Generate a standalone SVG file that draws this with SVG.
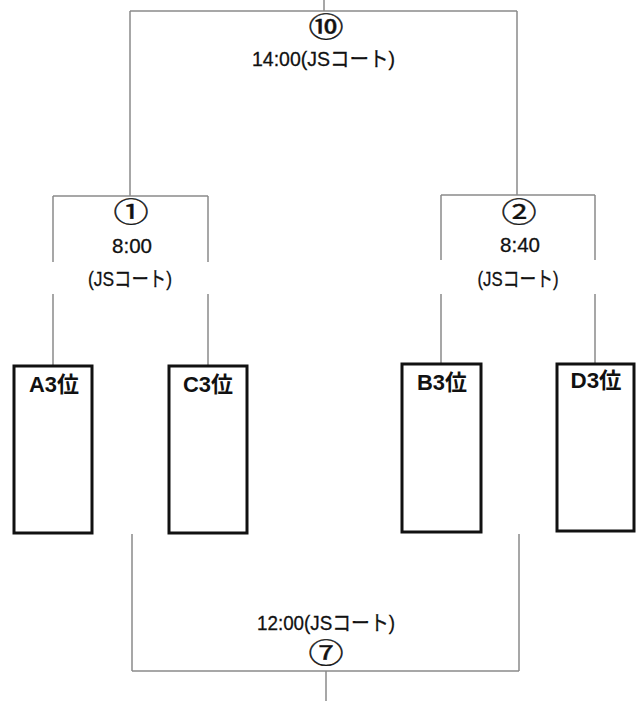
<svg xmlns="http://www.w3.org/2000/svg" width="641" height="701" viewBox="0 0 641 701">
<style>
.ln{stroke:#8a8a8a;stroke-width:1.5;fill:none}
.box{fill:#fff;stroke:#111;stroke-width:3}
.t{font-family:"Liberation Sans","Noto Sans CJK JP",sans-serif;fill:#111;text-anchor:middle;stroke:#111;stroke-width:0.3}
.tm{font-size:21px}
.tb{font-size:22px;font-weight:bold;stroke-width:0}
.c{font-family:"Noto Sans CJK JP",sans-serif;font-size:27px;fill:#111;stroke:#111;stroke-width:0.4;text-anchor:middle}
</style>
<rect width="641" height="701" fill="#fff"/>
<g id="connectors">
<path class="ln" d="M324 0V11M130 11H517M130 11V196M517 11V195"/>
<path class="ln" d="M53 196H208M53 196V262M53 294V366M208 196V262M208 294V366"/>
<path class="ln" d="M441 195H595M441 195V260M441 294V364M595 195V260M595 294V364"/>
<path class="ln" d="M132 534V671M519 534V671M132 671H519M326 671V701"/>
</g>
<g id="match10">
<text class="c" transform="translate(326 37) scale(1.3 1)" x="0" y="0">⑩</text>
<text class="t tm" x="323.5" y="66" textLength="143" lengthAdjust="spacingAndGlyphs">14:00(JSコート)</text>
</g>
<g id="match1">
<text class="c" transform="translate(131 222) scale(1.3 1)" x="0" y="0">①</text>
<text class="t tm" x="132" y="253" textLength="40" lengthAdjust="spacingAndGlyphs">8:00</text>
<text class="t tm" x="130" y="286" textLength="84" lengthAdjust="spacingAndGlyphs">(JSコート)</text>
</g>
<g id="match2">
<text class="c" transform="translate(519 222) scale(1.3 1)" x="0" y="0">②</text>
<text class="t tm" x="520" y="252" textLength="40" lengthAdjust="spacingAndGlyphs">8:40</text>
<text class="t tm" x="518" y="286" textLength="81" lengthAdjust="spacingAndGlyphs">(JSコート)</text>
</g>
<g id="match7">
<text class="t tm" x="326" y="630" textLength="138" lengthAdjust="spacingAndGlyphs">12:00(JSコート)</text>
<text class="c" transform="translate(326 663) scale(1.3 1)" x="0" y="0">⑦</text>
</g>
<g id="teamA">
<rect class="box" x="14" y="366" width="78" height="167"/>
<text class="t tb" x="54" y="392" textLength="50" lengthAdjust="spacingAndGlyphs">A3位</text>
</g>
<g id="teamC">
<rect class="box" x="169" y="366" width="78" height="167"/>
<text class="t tb" x="208" y="392" textLength="50" lengthAdjust="spacingAndGlyphs">C3位</text>
</g>
<g id="teamB">
<rect class="box" x="402" y="364" width="79" height="168"/>
<text class="t tb" x="442" y="390" textLength="50" lengthAdjust="spacingAndGlyphs">B3位</text>
</g>
<g id="teamD">
<rect class="box" x="557" y="364" width="77" height="167"/>
<text class="t tb" x="596" y="388" textLength="51" lengthAdjust="spacingAndGlyphs">D3位</text>
</g>
</svg>
